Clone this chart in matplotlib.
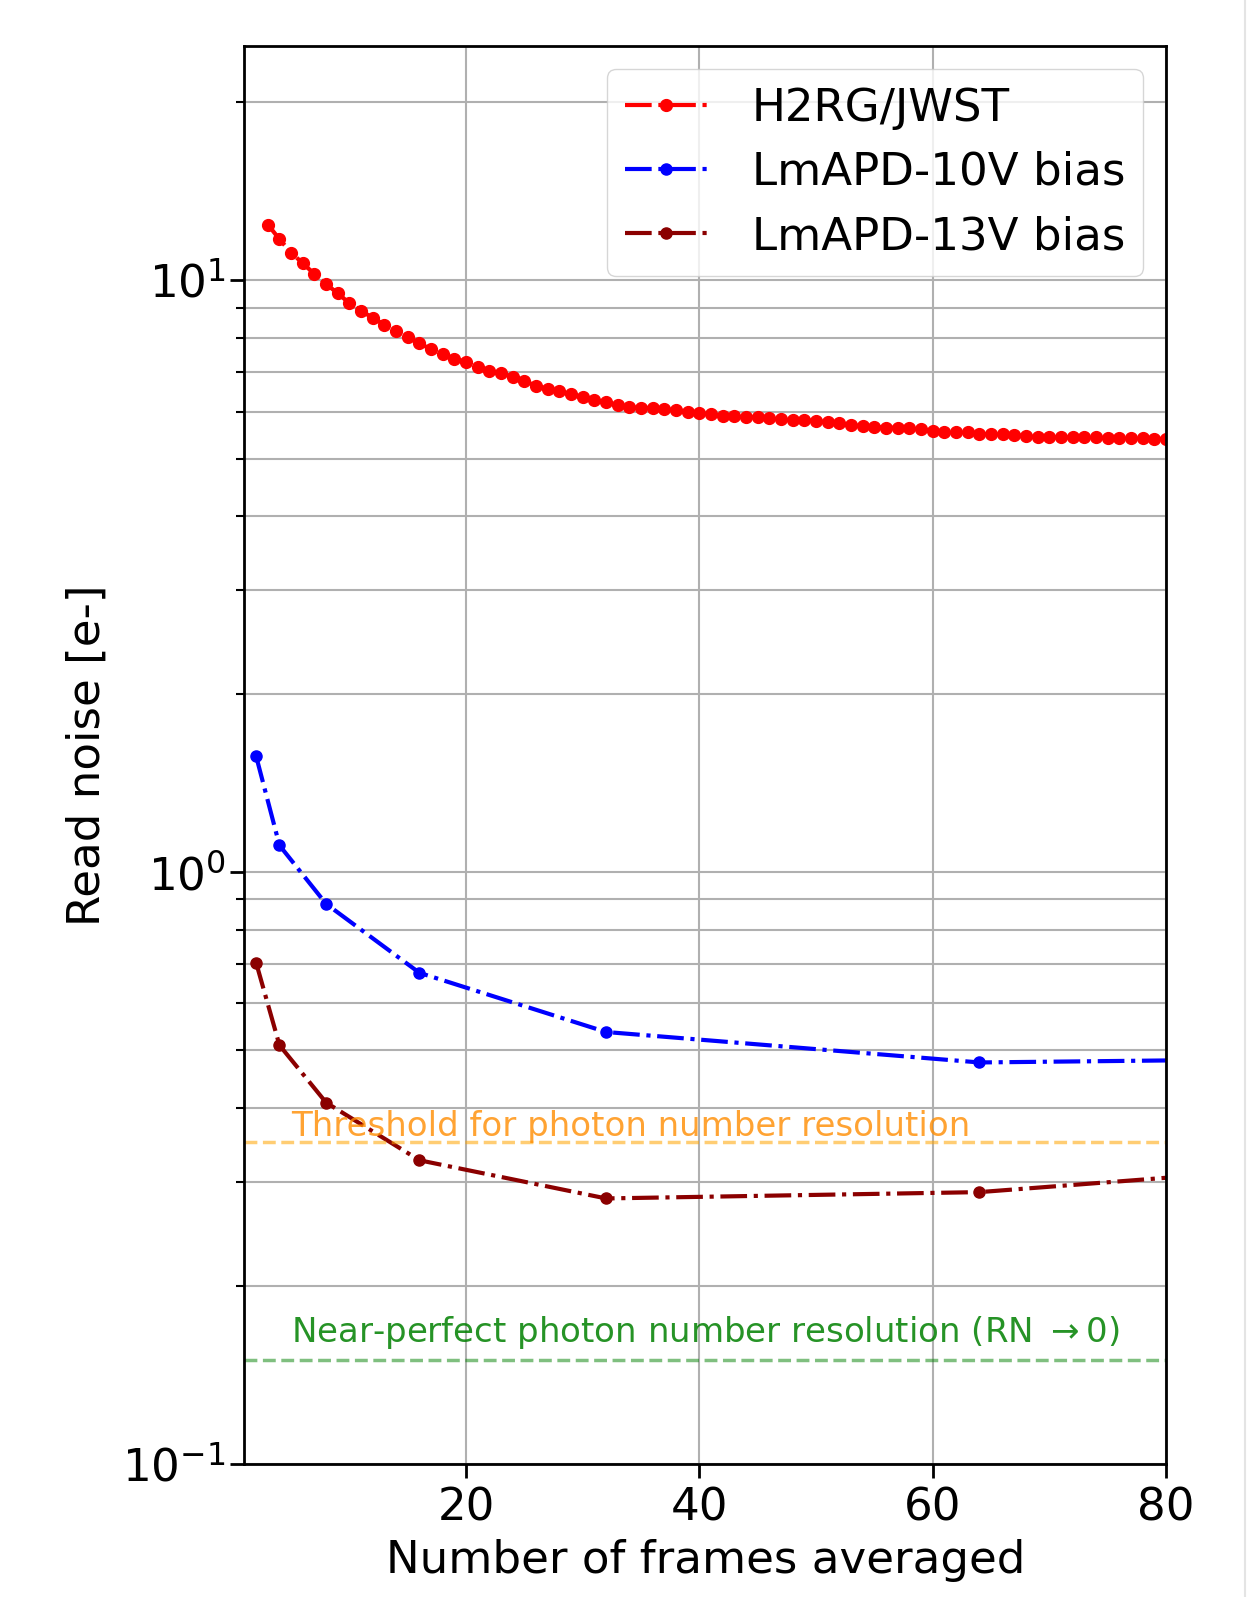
import matplotlib
matplotlib.use("Agg")
import matplotlib.pyplot as plt
from matplotlib.lines import Line2D

# ---------------- data ----------------
frames_h2rg = list(range(3, 81))
noise_h2rg = [12.43, 11.74, 11.14, 10.69, 10.25, 9.86, 9.51, 9.15, 8.89, 8.64,
              8.42, 8.21, 8.02, 7.83, 7.65, 7.50, 7.38, 7.28, 7.15, 7.04,
              6.97, 6.88, 6.76, 6.64, 6.56, 6.50, 6.43, 6.35, 6.28, 6.22,
              6.16, 6.11, 6.09, 6.09, 6.06, 6.04, 6.00, 5.96, 5.94, 5.91,
              5.90, 5.88, 5.87, 5.85, 5.84, 5.81, 5.81, 5.79, 5.76, 5.74,
              5.70, 5.67, 5.66, 5.64, 5.64, 5.63, 5.60, 5.57, 5.55, 5.55,
              5.54, 5.50, 5.50, 5.50, 5.48, 5.46, 5.43, 5.43, 5.43, 5.43,
              5.43, 5.43, 5.41, 5.41, 5.41, 5.41, 5.40, 5.40]

frames_apd = [2, 4, 8, 16, 32, 64, 128]
noise_10v = [1.57, 1.11, 0.884, 0.676, 0.537, 0.477, 0.492]
noise_13v = [0.703, 0.510, 0.408, 0.326, 0.281, 0.288, 0.360]

labels = ["H2RG/JWST", "LmAPD-10V bias", "LmAPD-13V bias"]
threshold_value = 0.35
perfect_value = 0.15
threshold_text = "Threshold for photon number resolution"
perfect_text = "Near-perfect photon number resolution (RN $\\rightarrow$0)"
text_x = 5

# ---------------- figure ----------------
fig = plt.figure(figsize=(12.57, 15.97), dpi=100)
ax = fig.add_axes([0.1945, 0.0833, 0.7331, 0.8879])

ax.plot(frames_h2rg, noise_h2rg, '-.', color='red', marker='o',
        markersize=8.5, linewidth=3, label=labels[0])
ax.plot(frames_apd, noise_10v, '-.', color='blue', marker='o',
        markersize=8, linewidth=3, label=labels[1])
ax.plot(frames_apd, noise_13v, '-.', color='darkred', marker='o',
        markersize=8, linewidth=3, label=labels[2])

ax.axhline(threshold_value, color='orange', alpha=0.55, linestyle='--', linewidth=2.5)
ax.axhline(perfect_value, color='green', alpha=0.5, linestyle='--', linewidth=2.5)
ax.text(text_x, threshold_value * 0.997, threshold_text, color='darkorange',
        alpha=0.8, fontsize=24.5, va='bottom', ha='left')
ax.text(text_x, perfect_value * 1.035, perfect_text, color='green',
        alpha=0.85, fontsize=24.5, va='bottom', ha='left')

ax.set_yscale('log')
ax.set_xlim(1, 80)
ax.set_ylim(0.1, 24.9)
ax.set_xticks([20, 40, 60, 80])

ax.grid(True, which='major', color='#b0b0b0', linewidth=1.5)
ax.grid(True, which='minor', axis='y', color='#b0b0b0', linewidth=1.5)
ax.set_axisbelow(True)

ax.tick_params(axis='both', which='major', labelsize=32.5, length=10, width=2)
ax.tick_params(axis='x', which='major', pad=6)
ax.tick_params(axis='y', which='minor', length=6, width=1.5)
for sp in ax.spines.values():
    sp.set_linewidth(2)

ax.set_xlabel("Number of frames averaged", fontsize=32.5, labelpad=7)
ax.set_ylabel("Read noise [e-]", fontsize=32.5, labelpad=10)

ax.legend(loc='upper right', fontsize=32.5, handlelength=1.8, handletextpad=1.0,
          labelspacing=0.47)

fig.add_artist(Line2D([1245 / 1257, 1245 / 1257], [0, 1], color='#e4e4e4',
                      linewidth=1.5, transform=fig.transFigure))

fig.savefig("out.png", dpi=100)
